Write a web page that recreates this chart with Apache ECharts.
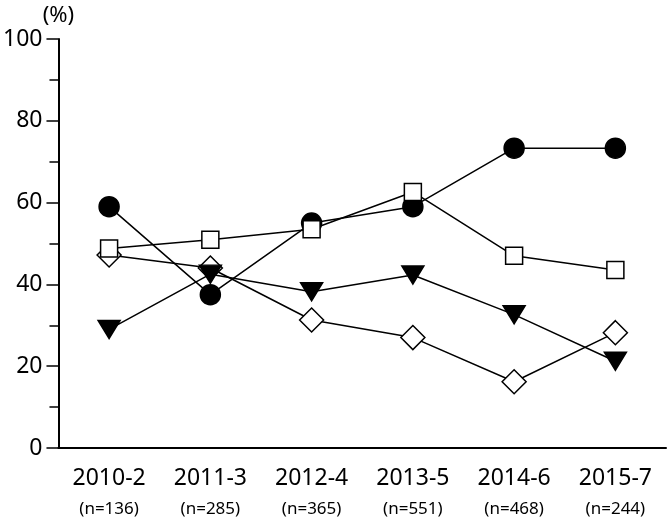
<!DOCTYPE html>
<html>
<head>
<meta charset="utf-8">
<script src="https://cdn.jsdelivr.net/npm/echarts@6/dist/echarts.min.js"></script>
<style>
  html, body { margin: 0; padding: 0; background: #fff; }
  #chart { width: 669px; height: 520px; }
</style>
</head>
<body>
<div id="chart"></div>
<script>
var years = ['2010-2', '2011-3', '2012-4', '2013-5', '2014-6', '2015-7'];
var counts = ['(n=136)', '(n=285)', '(n=365)', '(n=551)', '(n=468)', '(n=244)'];

var circleVals = [59, 37.5, 55, 59, 73.3, 73.3];
var squareVals = [48.8, 50.9, 53.5, 62.6, 47, 43.5];
var triangleVals = [29, 42.5, 38.2, 42.3, 32.6, 21.2];
var diamondVals = [47.2, 44, 31.3, 27, 16.2, 28.2];

var font = 'Noto Sans, sans-serif';
var chart = echarts.init(document.getElementById('chart'));

function makeSeries(name, data, symbol, size, fill, z, rotate) {
  return {
    name: name,
    type: 'line',
    data: data,
    symbol: symbol,
    symbolSize: size,
    symbolRotate: rotate || 0,
    showAllSymbol: true,
    z: z,
    lineStyle: { color: '#000', width: 1.5 },
    itemStyle: { color: fill, borderColor: '#000', borderWidth: 1.5 },
    emphasis: { disabled: true },
    animation: false
  };
}

chart.setOption({
  animation: false,
  grid: { left: 52, right: 3, top: 39, bottom: 72, containLabel: false },
  xAxis: {
    type: 'category',
    data: years.map(function (y, i) { return '{a|' + y + '}\n{b|' + counts[i] + '}'; }),
    boundaryGap: true,
    axisLine: { lineStyle: { color: '#000', width: 2 } },
    axisTick: { alignWithLabel: true, length: 12, lineStyle: { color: '#000', width: 1.5 } },
    axisLabel: {
      margin: 14,
      color: '#000',
      fontFamily: font,
      rich: {
        a: { fontSize: 23, lineHeight: 32, fontFamily: font, color: '#000' },
        b: { fontSize: 17, lineHeight: 30, fontFamily: font, color: '#000' }
      }
    }
  },
  yAxis: {
    type: 'value',
    min: 0,
    max: 100,
    interval: 20,
    name: '(%)',
    nameGap: 12,
    nameTextStyle: { fontSize: 22, color: '#000', fontFamily: font },
    axisLine: { show: true, lineStyle: { color: '#000', width: 2 } },
    axisTick: { show: true, length: 12, lineStyle: { color: '#000', width: 1.5 } },
    minorTick: { show: true, splitNumber: 2, length: 9, lineStyle: { color: '#000', width: 1.5 } },
    splitLine: { show: false },
    axisLabel: { margin: 16, fontSize: 23, color: '#000', fontFamily: font }
  },
  series: [
    makeSeries('circle', circleVals, 'circle', 20, '#000', 2),
    makeSeries('diamond', diamondVals, 'diamond', [24, 24], '#fff', 3),
    makeSeries('triangle', triangleVals, 'triangle', [22, 18], '#000', 4, 180),
    makeSeries('square', squareVals, 'rect', [17, 17], '#fff', 5)
  ]
});
</script>
</body>
</html>
